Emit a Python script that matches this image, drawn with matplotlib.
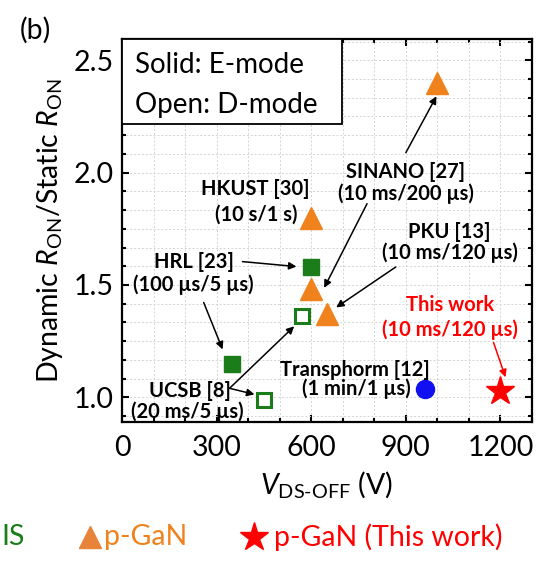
import matplotlib
matplotlib.use("Agg")
import matplotlib.pyplot as plt
from matplotlib.lines import Line2D
from matplotlib.patches import Rectangle
from matplotlib.ticker import MultipleLocator
import numpy as np

FONT = "Lato"
plt.rcParams['font.family'] = [FONT, 'DejaVu Sans']
plt.rcParams['mathtext.fontset'] = 'custom'
plt.rcParams['mathtext.rm'] = FONT
plt.rcParams['mathtext.it'] = FONT + ':italic'
plt.rcParams['mathtext.bf'] = FONT + ':bold'

# ---- data ----
mis_e_x = [600, 350]            # solid green squares (E-mode MIS)
mis_e_y = [1.58, 1.15]
mis_d_x = [570, 450]            # open green squares (D-mode MIS)
mis_d_y = [1.36, 0.99]
pgan_x = [1000, 600, 600, 650]  # orange triangles
pgan_y = [2.40, 1.80, 1.48, 1.37]
casc_x = [960]                  # blue circle (Transphorm)
casc_y = [1.035]
this_x = [1200]                 # red star
this_y = [1.03]

xticks = [0, 300, 600, 900, 1200]
yticks = [1.0, 1.5, 2.0, 2.5]

GREEN = '#1a7d1a'
ORANGE = '#f0821e'
BLUE = '#1010f0'
RED = '#ff0000'

fig = plt.figure(figsize=(5.49, 5.63), dpi=100)
ax = fig.add_axes([122/549, 1-422/563, 410/549, 383/563])

ax.set_xlim(0, 1300)
ax.set_ylim(0.89, 2.595)
ax.set_xticks(xticks)
ax.set_yticks(yticks)
ax.set_yticklabels([f"{v:.1f}" for v in yticks])
ax.xaxis.set_minor_locator(MultipleLocator(100))
ax.yaxis.set_minor_locator(MultipleLocator(0.5/6))
ax.tick_params(which='both', direction='in', top=True, right=True, width=1.5,
               labelsize=20.5, colors='black')
ax.tick_params(axis='x', pad=9)
ax.tick_params(axis='y', pad=6)
ax.tick_params(which='major', length=5)
ax.tick_params(which='minor', length=3)
for s in ax.spines.values():
    s.set_linewidth(1.6)
ax.grid(which='minor', color='#d4d4d4', linestyle=(0, (2, 2)), linewidth=0.7)
ax.grid(which='major', color='#d4d4d4', linestyle=(0, (2, 2)), linewidth=0.7)
ax.set_axisbelow(True)

ax.set_xlabel(r"$V_{\mathrm{DS\text{-}OFF}}$ (V)", fontsize=20.5, labelpad=6)
ax.set_ylabel(r"Dynamic $R_{\mathrm{ON}}$/Static $R_{\mathrm{ON}}$", fontsize=20.5, labelpad=6)

# markers
ax.plot(mis_e_x, mis_e_y, 's', ms=12, color=GREEN, mec=GREEN, zorder=5, clip_on=False)
ax.plot(mis_d_x, mis_d_y, 's', ms=10.5, mfc='white', mec=GREEN, mew=2.2, zorder=5, clip_on=False)
ax.plot(pgan_x, pgan_y, '^', ms=15.5, color=ORANGE, mec=ORANGE, zorder=5)
ax.plot(casc_x, casc_y, 'o', ms=13, color=BLUE, mec=BLUE, zorder=5)
ax.plot(this_x, this_y, '*', ms=21, color=RED, mec=RED, zorder=5)

# legend box
ax.add_patch(Rectangle((0, 0.778), 0.537, 0.222, transform=ax.transAxes,
                       facecolor='white', edgecolor='black', lw=1.3, zorder=6))
ax.text(0.032, 0.932, "Solid: E-mode", transform=ax.transAxes, fontsize=20,
        va='center', ha='left', zorder=7)
ax.text(0.032, 0.828, "Open: D-mode", transform=ax.transAxes, fontsize=20,
        va='center', ha='left', zorder=7)

# annotations
afs = 14.5
def lbl(x, y, s, color='black'):
    ax.text(x, y, s, fontsize=afs, fontweight='bold', ha='center', va='center',
            color=color, zorder=7)

def arr(x0, y0, x1, y1, color='black'):
    ax.annotate('', xy=(x1, y1), xytext=(x0, y0),
                arrowprops=dict(arrowstyle='-|>', color=color, lw=1.1,
                                mutation_scale=11, shrinkA=0, shrinkB=0), zorder=7)

lbl(900, 2.004, "SINANO [27]")
lbl(900, 1.907, "(10 ms/200 µs)")
arr(900, 2.089, 997, 2.34)
arr(777, 1.862, 641, 1.487)

lbl(423, 1.929, "HKUST [30]")
lbl(426, 1.813, "(10 s/1 s)")

lbl(227, 1.604, "HRL [23]")
lbl(227, 1.502, "(100 µs/5 µs)")
arr(382, 1.604, 553, 1.582)
arr(259, 1.422, 319, 1.213)

lbl(215, 1.027, "UCSB [8]")
lbl(208, 0.938, "(20 ms/5 µs)")
arr(341, 1.04, 546, 1.316)
arr(341, 1.04, 420, 1.013)

lbl(1039, 1.736, "PKU [13]")
lbl(1039, 1.642, "(10 ms/120 µs)")
arr(868, 1.58, 679, 1.40)

lbl(1039, 1.409, "This work", RED)
lbl(1039, 1.300, "(10 ms/120 µs)", RED)
arr(1178, 1.244, 1216, 1.089, RED)

lbl(739, 1.12, "Transphorm [12]")
lbl(742, 1.036, "(1 min/1 µs)")

# panel label
fig.text(35/549, 1-30/563, "(b)", fontsize=20.5, ha='center', va='center')

# bottom legend (cropped at the left edge in the reference)
ly = 1 - 537/563
fig.text(1/549, ly, "IS", fontsize=20.5, color=GREEN, ha='left', va='center')
fig.add_artist(Line2D([90/549], [ly], transform=fig.transFigure, marker='^', ms=15.5,
                      color='#e8843a', linestyle='none'))
fig.text(104/549, ly, "p-GaN", fontsize=20.5, color=ORANGE, ha='left', va='center')
fig.add_artist(Line2D([254/549], [ly], transform=fig.transFigure, marker='*', ms=21,
                      color=RED, linestyle='none'))
fig.text(274/549, ly, "p-GaN (This work)", fontsize=20.5, color=RED, ha='left', va='center')

fig.savefig("out.png", dpi=100)
